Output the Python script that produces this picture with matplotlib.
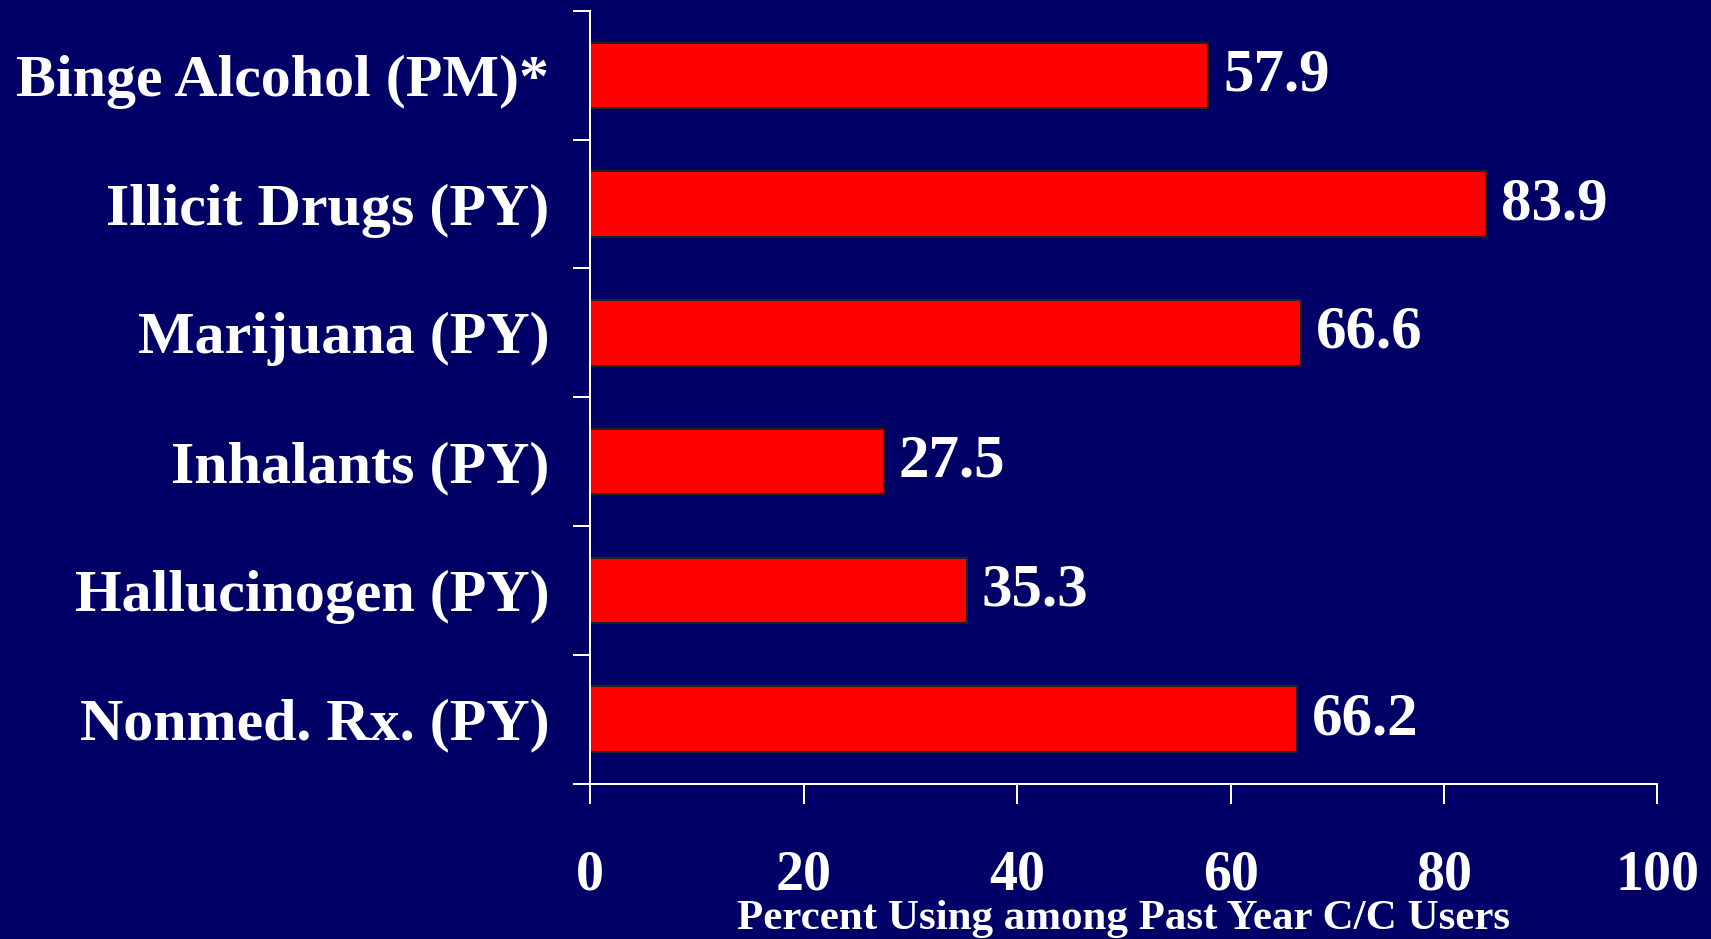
import matplotlib
matplotlib.use("Agg")
import matplotlib.pyplot as plt

categories = ["Binge Alcohol (PM)*", "Illicit Drugs (PY)", "Marijuana (PY)",
              "Inhalants (PY)", "Hallucinogen (PY)", "Nonmed. Rx. (PY)"]
values = [57.9, 83.9, 66.6, 27.5, 35.3, 66.2]
xticks = [0, 20, 40, 60, 80, 100]
xlabel = "Percent Using among Past Year C/C Users"

bg = "#000066"
plt.rcParams["font.family"] = ["Liberation Serif", "DejaVu Serif"]
plt.rcParams["font.weight"] = "bold"

fig = plt.figure(figsize=(1711 / 72, 939 / 72), dpi=72, facecolor=bg)
ax = fig.add_axes([0.345, 0.1656, 0.9687 - 0.345, 0.9883 - 0.1656])
ax.set_facecolor(bg)

pos = list(range(len(categories)))
ax.barh(pos, values, height=0.51, color="#ff0000", edgecolor="#222222", linewidth=2)
for p, v in zip(pos, values):
    ax.text(v + 1.4, p, f"{v:.1f}", color="white", fontsize=61, fontweight="bold",
            va="center", ha="left")

ax.set_ylim(len(categories) - 0.5, -0.5)
ax.set_xlim(0, 100)

# boundary ticks on y, labels at bar centres
ax.set_yticks([i - 0.5 for i in range(len(categories) + 1)])
ax.set_yticklabels([])
ax.set_yticks(pos, minor=True)
ax.set_yticklabels(categories, minor=True, fontsize=60, color="white", fontweight="bold")
ax.tick_params(axis="y", which="major", direction="out", length=17, width=2, color="white")
ax.tick_params(axis="y", which="minor", length=0, pad=41)

ax.set_xticks(xticks)
ax.set_xticklabels([str(t) for t in xticks], fontsize=56, color="white", fontweight="bold")
ax.tick_params(axis="x", direction="out", length=20, width=2, color="white", pad=46)

ax.set_xlabel(xlabel, fontsize=43, color="white", fontweight="bold", labelpad=-2)

for s in ["top", "right"]:
    ax.spines[s].set_visible(False)
for s in ["left", "bottom"]:
    ax.spines[s].set_color("white")
    ax.spines[s].set_linewidth(2)

fig.savefig("out.png", dpi=72, facecolor=bg)
